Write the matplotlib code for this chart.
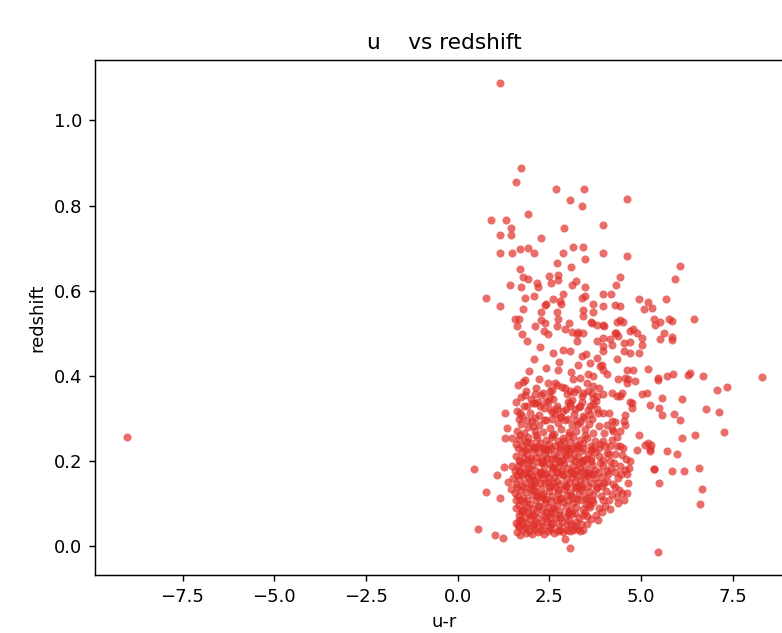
import matplotlib
matplotlib.use("Agg")
import matplotlib.pyplot as plt
import numpy as np

title_text = "u    vs redshift"
x_label = "u-r"
y_label = "redshift"
point_color = "#e0302a"

# isolated / outlying points (u-r, redshift)
outlier_pts = [(-9.02, 0.256), (1.15, 1.087), (5.45, -0.012), (8.30, 0.397),
               (0.44, 0.181), (0.54, 0.042), (1.01, 0.028), (1.24, 0.020),
               (3.06, -0.003), (2.92, 0.018), (0.77, 0.129), (1.15, 0.113),
               (1.07, 0.167), (1.26, 0.186), (1.47, 0.188), (1.37, 0.152)]

upper_pts = [
    (1.73, 0.888), (1.58, 0.855), (2.69, 0.840), (3.45, 0.840), (3.07, 0.813), (3.38, 0.800), (4.61, 0.816),
    (1.92, 0.780), (0.92, 0.767), (1.31, 0.767), (1.46, 0.747), (2.91, 0.747), (3.95, 0.754), (1.16, 0.732),
    (1.46, 0.732), (2.27, 0.723), (1.15, 0.689), (1.47, 0.689), (1.69, 0.698), (1.92, 0.701), (2.08, 0.689),
    (2.88, 0.689), (3.15, 0.704), (3.42, 0.704), (3.48, 0.675), (3.95, 0.689), (4.61, 0.681), (6.07, 0.659),
    (5.91, 0.629), (4.42, 0.632), (4.31, 0.613), (2.70, 0.665), (3.08, 0.655), (1.69, 0.652), (1.77, 0.632),
    (1.92, 0.629), (2.15, 0.619), (2.19, 0.610), (1.43, 0.613), (1.73, 0.610), (2.50, 0.635), (2.72, 0.638),
    (2.53, 0.619), (2.72, 0.626), (3.22, 0.623), (3.11, 0.613), (3.46, 0.610), (0.77, 0.584), (1.15, 0.564),
    (1.84, 0.584), (2.08, 0.587), (2.38, 0.567), (2.60, 0.580), (2.88, 0.593), (2.79, 0.576), (3.38, 0.583),
    (3.46, 0.587), (3.95, 0.593), (4.18, 0.593), (3.95, 0.564), (4.42, 0.564), (4.95, 0.580), (5.20, 0.573),
    (5.08, 0.557), (5.68, 0.580), (6.44, 0.534), (1.77, 0.557), (1.56, 0.534), (1.66, 0.534), (2.10, 0.517),
    (2.27, 0.531), (2.38, 0.525), (2.70, 0.517), (3.03, 0.525), (3.41, 0.541), (3.65, 0.525), (3.99, 0.517),
    (4.43, 0.531), (4.79, 0.511), (5.36, 0.534), (5.77, 0.534), (5.61, 0.502), (5.84, 0.491), (4.32, 0.502),
    (3.24, 0.498), (3.42, 0.502), (2.92, 0.511), (1.74, 0.498), (2.47, 0.498), (2.81, 0.569), (2.41, 0.569),
    (3.70, 0.569), (2.27, 0.551), (2.70, 0.551), (3.42, 0.554), (3.69, 0.551), (1.62, 0.518), (2.74, 0.534),
    (3.11, 0.503), (3.29, 0.503), (3.63, 0.527), (3.79, 0.521), (2.35, 0.505), (5.29, 0.560),
]

mid_pts = [
    (1.90, 0.482), (2.23, 0.469), (3.24, 0.482), (3.79, 0.482), (3.97, 0.490), (2.60, 0.455), (3.07, 0.458),
    (3.50, 0.452), (3.79, 0.443), (3.97, 0.458), (2.77, 0.433), (3.29, 0.426), (3.93, 0.427),
    (2.74, 0.415), (3.56, 0.404), (3.70, 0.401), (3.88, 0.423), (4.65, 0.392), (2.65, 0.383), (2.92, 0.373),
    (3.06, 0.365), (3.52, 0.383), (3.70, 0.376), (3.42, 0.361), (3.65, 0.361), (3.79, 0.353), (4.43, 0.353),
    (4.70, 0.339), (2.51, 0.322), (2.70, 0.322), (2.88, 0.318), (3.06, 0.329), (3.20, 0.322), (3.33, 0.329),
    (3.61, 0.329), (3.79, 0.322), (4.20, 0.294), (4.52, 0.294), (4.20, 0.275), (5.20, 0.243), (5.25, 0.228),
    (1.65, 0.378), (1.84, 0.390), (1.83, 0.355), (2.10, 0.358), (2.33, 0.361), (2.51, 0.365), (2.70, 0.380),
    (1.28, 0.314), (1.35, 0.279), (1.28, 0.254), (1.49, 0.254), (1.69, 0.314), (1.88, 0.329), (2.06, 0.337),
    (2.24, 0.329),
    (1.78, 0.386), (2.22, 0.392), (2.46, 0.384), (3.14, 0.392), (3.34, 0.396), (1.95, 0.412), (2.40, 0.420),
    (3.10, 0.410), (3.60, 0.430), (2.08, 0.440), (3.40, 0.446), (2.88, 0.462), (1.58, 0.340), (2.52, 0.352),
    (3.18, 0.362), (2.04, 0.282), (2.66, 0.312), (3.28, 0.288), (3.60, 0.310),
]

right_pts = [
    (4.29, 0.568), (5.84, 0.529), (5.38, 0.521), (5.52, 0.527), (4.34, 0.527), (4.50, 0.527), (3.97, 0.521),
    (4.29, 0.502), (4.38, 0.494), (4.70, 0.505), (4.88, 0.502), (5.02, 0.490), (5.02, 0.474), (5.52, 0.488),
    (5.84, 0.484), (3.97, 0.470), (4.15, 0.486), (4.20, 0.474), (4.52, 0.478), (4.70, 0.480), (4.52, 0.458),
    (4.70, 0.455), (4.95, 0.453), (4.34, 0.439), (3.97, 0.415), (4.06, 0.404), (4.61, 0.415), (4.79, 0.414),
    (5.20, 0.417), (5.47, 0.396), (5.70, 0.400), (5.88, 0.404), (6.27, 0.402), (6.34, 0.408), (6.69, 0.400),
    (4.38, 0.394), (4.56, 0.396), (4.61, 0.384), (4.84, 0.388), (5.46, 0.390), (7.07, 0.367), (7.34, 0.375),
    (3.97, 0.357), (4.20, 0.361), (4.34, 0.353), (4.47, 0.361), (5.02, 0.357), (5.16, 0.361), (5.57, 0.349),
    (6.11, 0.347), (4.75, 0.337), (4.75, 0.326), (5.23, 0.331), (5.50, 0.326), (3.97, 0.314), (4.11, 0.314),
    (4.56, 0.308), (5.57, 0.308), (5.90, 0.312), (6.07, 0.296), (6.78, 0.322), (7.11, 0.315), (4.06, 0.286),
    (4.29, 0.292), (4.56, 0.286), (4.24, 0.271), (4.43, 0.271), (4.95, 0.261), (6.11, 0.254), (6.46, 0.261),
    (7.27, 0.269), (3.97, 0.247), (4.20, 0.251), (4.34, 0.235), (4.41, 0.235), (5.11, 0.239), (5.27, 0.239),
    (4.88, 0.226), (5.23, 0.224), (5.70, 0.224), (5.99, 0.218), (4.06, 0.220), (4.29, 0.216), (4.47, 0.214),
    (5.36, 0.182), (5.84, 0.178), (5.50, 0.150), (4.61, 0.169), (4.65, 0.150), (4.47, 0.126), (4.54, 0.110),
    (3.52, 0.071), (3.83, 0.061), (6.66, 0.135), (6.61, 0.100), (6.57, 0.185), (6.18, 0.177), (5.34, 0.181),
    (3.92, 0.142), (4.10, 0.170), (4.25, 0.196), (4.40, 0.132), (4.58, 0.206), (3.88, 0.196), (4.02, 0.236),
    (4.33, 0.258), (4.50, 0.232), (4.62, 0.126), (3.93, 0.082), (4.15, 0.088), (3.76, 0.074), (4.36, 0.102),
    (4.70, 0.200),
]

core_pts = [
    (1.62, 0.035), (1.70, 0.028), (1.78, 0.040), (1.85, 0.032), (1.93, 0.036), (2.02, 0.030), (2.10, 0.042),
    (2.18, 0.034), (2.27, 0.038), (2.35, 0.029), (2.45, 0.036), (2.55, 0.041), (2.62, 0.031), (2.72, 0.037),
    (2.80, 0.039), (2.88, 0.033), (2.97, 0.038), (3.06, 0.036), (3.15, 0.038), (3.24, 0.040), (3.33, 0.037),
    (3.41, 0.038), (1.66, 0.045), (2.06, 0.048), (2.50, 0.046),
    (1.60, 0.055), (1.68, 0.062), (1.75, 0.058), (1.83, 0.070), (1.90, 0.052), (1.98, 0.064), (2.05, 0.075),
    (2.12, 0.058), (2.20, 0.068), (2.28, 0.054), (2.36, 0.072), (2.44, 0.060), (2.52, 0.078), (2.60, 0.056),
    (2.68, 0.066), (2.76, 0.074), (2.85, 0.058), (2.94, 0.070), (3.02, 0.062), (3.12, 0.076), (3.22, 0.057),
    (3.30, 0.068), (3.42, 0.073), (3.53, 0.053), (3.62, 0.065), (1.72, 0.080), (2.40, 0.082), (3.00, 0.079),
    (1.58, 0.090), (1.66, 0.098), (1.74, 0.086), (1.81, 0.104), (1.89, 0.092), (1.97, 0.100), (2.04, 0.088),
    (2.13, 0.108), (2.21, 0.095), (2.29, 0.085), (2.37, 0.102), (2.46, 0.092), (2.55, 0.106), (2.63, 0.088),
    (2.71, 0.098), (2.80, 0.084), (2.88, 0.104), (2.96, 0.094), (3.05, 0.086), (3.14, 0.101), (3.23, 0.092),
    (3.32, 0.108), (3.41, 0.087), (3.50, 0.099), (3.60, 0.093), (3.70, 0.105), (3.86, 0.090), (4.02, 0.096),
    (1.56, 0.125), (1.64, 0.118), (1.72, 0.132), (1.79, 0.114), (1.87, 0.128), (1.95, 0.138), (2.02, 0.120),
    (2.10, 0.131), (2.18, 0.116), (2.26, 0.136), (2.33, 0.124), (2.41, 0.112), (2.49, 0.130), (2.57, 0.119),
    (2.65, 0.139), (2.73, 0.126), (2.81, 0.114), (2.89, 0.134), (2.97, 0.121), (3.06, 0.129), (3.14, 0.113),
    (3.22, 0.137), (3.31, 0.123), (3.40, 0.132), (3.49, 0.116), (3.58, 0.128), (3.68, 0.120), (3.78, 0.135),
    (3.90, 0.118), (4.05, 0.130), (4.20, 0.124), (4.35, 0.116), (1.45, 0.135),
    (1.52, 0.160), (1.60, 0.146), (1.68, 0.158), (1.75, 0.168), (1.83, 0.150), (1.91, 0.162), (1.99, 0.144),
    (2.07, 0.156), (2.15, 0.166), (2.23, 0.148), (2.31, 0.160), (2.39, 0.170), (2.47, 0.152), (2.55, 0.142),
    (2.63, 0.164), (2.71, 0.154), (2.79, 0.146), (2.87, 0.168), (2.95, 0.158), (3.04, 0.148), (3.12, 0.162),
    (3.20, 0.152), (3.29, 0.167), (3.37, 0.145), (3.46, 0.158), (3.55, 0.166), (3.64, 0.150), (3.73, 0.160),
    (3.83, 0.148), (3.94, 0.164), (4.08, 0.154), (4.22, 0.146), (4.38, 0.160),
    (1.55, 0.178), (1.63, 0.190), (1.71, 0.174), (1.79, 0.196), (1.87, 0.182), (1.95, 0.172), (2.03, 0.192),
    (2.11, 0.180), (2.19, 0.198), (2.27, 0.176), (2.35, 0.188), (2.43, 0.172), (2.51, 0.194), (2.59, 0.182),
    (2.67, 0.174), (2.75, 0.190), (2.83, 0.178), (2.91, 0.196), (2.99, 0.184), (3.07, 0.172), (3.15, 0.190),
    (3.23, 0.180), (3.31, 0.196), (3.39, 0.176), (3.47, 0.186), (3.56, 0.174), (3.65, 0.192), (3.74, 0.180),
    (3.84, 0.176), (3.95, 0.188), (4.06, 0.178), (4.18, 0.184), (4.30, 0.176), (4.42, 0.190), (4.55, 0.180),
    (4.68, 0.184),
    (1.58, 0.212), (1.66, 0.204), (1.74, 0.222), (1.82, 0.208), (1.90, 0.218), (1.98, 0.202), (2.06, 0.226),
    (2.14, 0.210), (2.22, 0.220), (2.30, 0.204), (2.38, 0.216), (2.46, 0.226), (2.54, 0.206), (2.62, 0.218),
    (2.70, 0.210), (2.78, 0.224), (2.86, 0.202), (2.94, 0.214), (3.02, 0.222), (3.10, 0.206), (3.18, 0.218),
    (3.27, 0.210), (3.36, 0.224), (3.45, 0.204), (3.54, 0.216), (3.63, 0.208), (3.73, 0.222), (3.84, 0.212),
    (3.97, 0.204), (4.12, 0.218),
    (1.60, 0.240), (1.68, 0.252), (1.76, 0.236), (1.84, 0.248), (1.92, 0.258), (2.00, 0.242), (2.08, 0.234),
    (2.16, 0.254), (2.24, 0.244), (2.32, 0.232), (2.40, 0.250), (2.48, 0.240), (2.56, 0.256), (2.64, 0.236),
    (2.72, 0.248), (2.80, 0.240), (2.88, 0.254), (2.96, 0.232), (3.05, 0.246), (3.14, 0.256), (3.23, 0.238),
    (3.32, 0.250), (3.42, 0.242), (3.52, 0.254), (3.62, 0.236), (3.74, 0.248), (3.88, 0.240),
    (1.62, 0.270), (1.72, 0.288), (1.82, 0.266), (1.92, 0.280), (2.02, 0.294), (2.12, 0.272), (2.22, 0.286),
    (2.32, 0.268), (2.42, 0.296), (2.52, 0.278), (2.62, 0.264), (2.72, 0.290), (2.82, 0.276), (2.92, 0.298),
    (3.02, 0.268), (3.12, 0.284), (3.22, 0.272), (3.34, 0.292), (3.46, 0.276), (3.58, 0.288), (3.70, 0.266),
    (3.84, 0.282),
    (1.62, 0.318), (1.74, 0.306), (1.98, 0.314), (2.10, 0.336), (2.22, 0.308), (2.34, 0.324), (2.46, 0.338),
    (2.58, 0.316), (2.70, 0.330), (2.82, 0.304), (2.94, 0.322), (3.06, 0.336), (3.18, 0.312), (3.30, 0.328),
    (3.42, 0.306), (3.55, 0.320), (3.68, 0.334), (3.82, 0.314),
    (1.72, 0.352), (1.86, 0.366), (2.00, 0.346), (2.14, 0.372), (2.28, 0.356), (2.42, 0.342), (2.56, 0.368),
    (2.84, 0.374), (2.98, 0.358), (3.12, 0.344), (3.26, 0.370), (3.40, 0.354), (3.55, 0.364), (3.70, 0.348),
    (3.86, 0.372),
]

dense_pts = [
    (1.76, 0.142), (1.94, 0.184), (2.12, 0.150), (2.30, 0.196), (2.48, 0.164), (2.66, 0.206), (2.84, 0.170),
    (3.02, 0.228), (3.20, 0.140), (3.38, 0.200), (3.56, 0.142), (1.84, 0.226), (2.02, 0.166), (2.20, 0.236),
    (2.38, 0.148), (2.56, 0.186), (2.74, 0.132), (2.92, 0.214), (3.10, 0.178), (3.28, 0.236), (3.46, 0.170),
    (3.64, 0.226), (1.70, 0.198), (1.88, 0.246), (2.06, 0.132), (2.24, 0.174), (2.42, 0.226), (2.60, 0.150),
    (2.78, 0.198), (2.96, 0.142), (3.14, 0.232), (3.32, 0.156), (3.50, 0.206), (3.68, 0.170), (1.80, 0.086),
    (2.00, 0.074), (2.20, 0.094), (2.40, 0.066), (2.60, 0.090), (2.80, 0.068), (3.00, 0.108), (3.20, 0.078),
    (1.90, 0.110), (2.30, 0.118), (2.70, 0.110), (3.10, 0.120), (3.50, 0.112), (1.64, 0.230), (1.62, 0.168),
    (1.58, 0.108), (1.66, 0.074),
    (1.65, 0.050), (1.87, 0.046), (2.09, 0.052), (2.31, 0.048), (2.53, 0.053), (2.75, 0.047), (2.97, 0.051),
    (3.19, 0.049), (3.37, 0.052), (1.70, 0.110), (1.92, 0.078), (2.14, 0.082), (2.36, 0.112), (2.58, 0.080),
    (2.80, 0.112), (3.02, 0.082), (3.24, 0.112), (3.46, 0.080), (3.66, 0.110), (1.62, 0.140), (1.84, 0.172),
    (2.06, 0.142), (2.28, 0.170), (2.50, 0.140), (2.72, 0.172), (2.94, 0.142), (3.16, 0.170), (3.38, 0.140),
    (3.60, 0.172), (3.80, 0.140), (1.66, 0.180), (1.88, 0.200), (2.10, 0.230), (2.32, 0.200), (2.54, 0.230),
    (2.76, 0.200), (2.98, 0.230), (3.20, 0.200), (3.42, 0.230), (3.64, 0.200), (3.86, 0.230), (1.70, 0.262),
    (1.92, 0.232), (2.14, 0.262), (2.36, 0.232), (2.58, 0.262), (2.80, 0.232), (3.02, 0.262), (3.24, 0.232),
    (3.46, 0.262), (3.68, 0.232), (1.68, 0.300), (1.90, 0.296), (2.12, 0.302), (2.34, 0.298), (2.56, 0.300),
    (2.78, 0.304), (3.00, 0.300), (3.22, 0.298), (3.44, 0.302), (3.66, 0.300), (1.80, 0.330), (2.20, 0.340),
    (2.60, 0.346), (3.00, 0.340), (3.40, 0.338), (3.76, 0.342), (4.00, 0.150), (4.14, 0.200), (4.28, 0.140),
    (4.44, 0.170), (4.00, 0.266), (4.16, 0.236), (3.95, 0.110), (4.12, 0.108),
    (1.73, 0.063), (2.17, 0.121), (2.63, 0.187), (3.09, 0.053), (3.33, 0.185), (2.01, 0.208), (2.89, 0.247),
    (3.57, 0.097), (1.97, 0.158), (2.51, 0.069), (3.27, 0.142), (2.44, 0.208),
]

all_pts = outlier_pts + upper_pts + mid_pts + right_pts + core_pts + dense_pts
u_r = np.array([p[0] for p in all_pts])
redshift = np.array([p[1] for p in all_pts])

DPI = 130
fig = plt.figure(figsize=(782 / DPI, 633 / DPI), dpi=DPI)
ax = fig.add_axes([95 / 782, 58 / 633, 699 / 782, 515 / 633])
ax.scatter(u_r, redshift, s=20, color=point_color, alpha=0.7, linewidths=0)
ax.set_title(title_text)
ax.set_xlabel(x_label)
ax.set_ylabel(y_label)
ax.set_xticks([-7.5, -5.0, -2.5, 0.0, 2.5, 5.0, 7.5])
fig.savefig("out.png", dpi=DPI)
